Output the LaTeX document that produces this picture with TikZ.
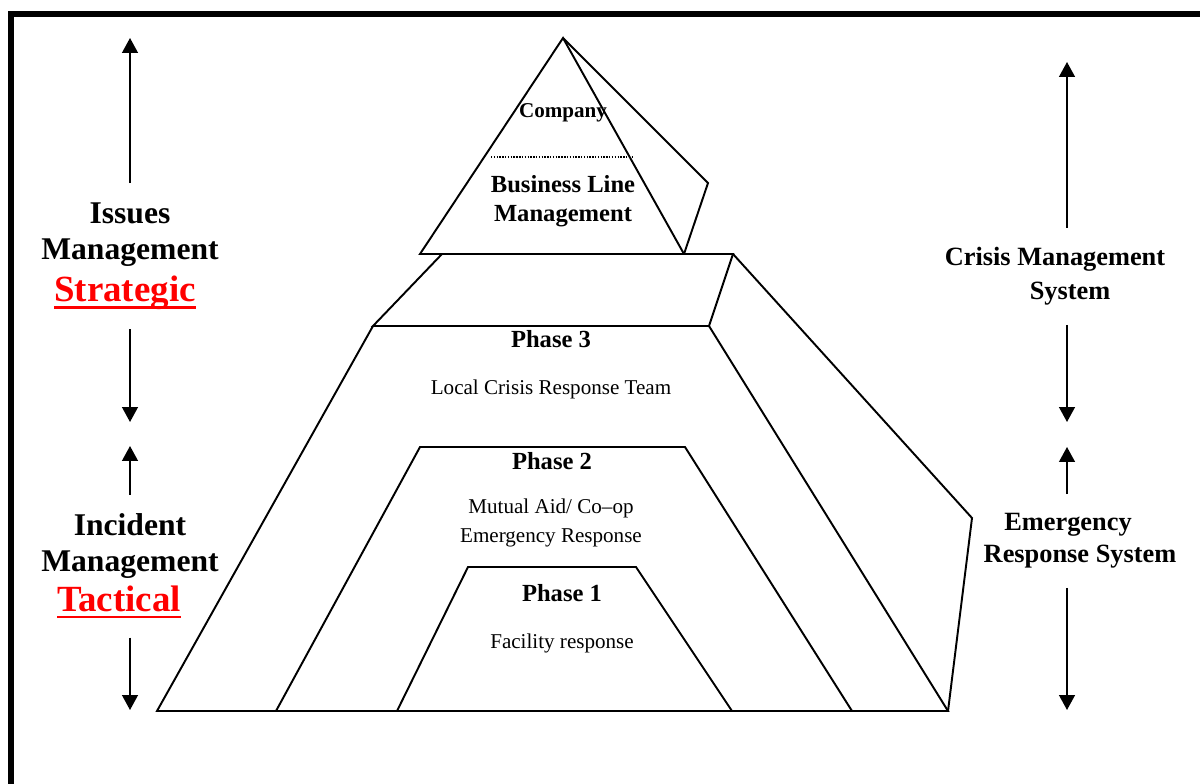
\documentclass[tikz,border=0pt]{standalone}
\usepackage{fontspec}
\setmainfont{Liberation Serif}
\usetikzlibrary{arrows.meta, calc}
% thick underline in the current colour
\newcommand{\ulthick}[1]{\setbox0\hbox{#1}\rlap{\vrule height -2.6pt depth 3.9pt width \wd0}\box0}
\tikzset {
  frame/.style = {line width=3.4pt},
  edge/.style = {line width=1.1pt, line join=miter},
  dots/.style = {line width=0.6pt, dash pattern=on 0.8pt off 0.8pt},
  updown/.style = {-{Triangle[width=9pt, length=8.5pt]}, line width=1pt, shorten <=0.38cm},
  side/.style = {inner sep=0pt, font=\bfseries\fontsize{18}{20}\selectfont},
  sidered/.style = {inner sep=0pt, text=red, font=\bfseries\fontsize{21}{24}\selectfont},
  sys/.style = {inner sep=0pt, font=\bfseries\fontsize{15}{18}\selectfont},
  phase/.style = {inner sep=0pt, font=\bfseries\fontsize{14}{16.5}\selectfont, align=center},
  note/.style = {inner sep=0pt, font=\fontsize{12}{16}\selectfont, align=center}
}

\begin{document}
\begin{tikzpicture}[x=0.02cm, y=-0.02cm]
    \useasboundingbox (0,0) rectangle (1200,784);
    \draw[frame] (11,784) -- (11,14) -- (1200,14);

    % pyramid
    \draw[edge] (420,254) -- (563,38) -- (684,254) -- cycle;
    \draw[edge] (563,38) -- (708,183) -- (684,254);
    \draw[dots] (491,157) -- (633,157);
    \draw[edge] (684,254) -- (733,254) -- (709,326) -- (373,326) -- (442,254);
    \draw[edge] (733,254) -- (972,518) -- (948,711);
    \draw[edge] (373,326) -- (157,711) -- (948,711) -- (709,326);
    \draw[edge] (276,711) -- (420,447) -- (685,447) -- (852,711);
    \draw[edge] (397,711) -- (468,567) -- (636,567) -- (732,711);

    \node[note, font=\bfseries\fontsize{12}{14}\selectfont] (company) at (563,113) {Company};
    \node[phase] (blm) at (563,201) {Business Line\\Management};
    \node[phase] (phase3) at (551,339) {Phase 3};
    \node[note] (lcrt) at (551,389) {Local Crisis Response Team};
    \node[phase] (phase2) at (552,461) {Phase 2};
    \node[note] (mutual) at (551,523) {Mutual Aid/ Co--op\\Emergency Response};
    \node[phase] (phase1) at (562,593) {Phase 1};
    \node[note] (facility) at (562,643) {Facility response};

    % left side
    \node[side] (issues) at (130,213) {Issues};
    \node[side] (mgmtA) at (130,253) {Management};
    \node[sidered] (strat) at (125,293) {\ulthick{Strategic}};
    \node[side] (incident) at (130,525) {Incident};
    \node[side] (mgmtB) at (130,565) {Management};
    \node[sidered] (tact) at (119,602) {\ulthick{Tactical}};

    \coordinate (issuesTip) at (130,38);
    \coordinate (stratTip) at (130,422);
    \coordinate (incidentTip) at (130,446);
    \coordinate (tactTip) at (130,710);
    \draw[updown] (issues.north) -- (issuesTip);
    \draw[updown] (strat.south -| stratTip) -- (stratTip);
    \draw[updown] (incident.north) -- (incidentTip);
    \draw[updown] (tact.south -| tactTip) -- (tactTip);

    % right side
    \node[sys] (crisis) at (1055,259) {Crisis Management};
    \node[sys] (system) at (1070,294) {System};
    \node[sys] (emerg) at (1068,525) {Emergency};
    \node[sys] (resp) at (1080,557) {Response System};

    \coordinate (crisisTip) at (1067,62);
    \coordinate (systemTip) at (1067,422);
    \coordinate (emergTip) at (1067,447);
    \coordinate (respTip) at (1067,710);
    \draw[updown] (crisis.north -| crisisTip) -- (crisisTip);
    \draw[updown] (system.south -| systemTip) -- (systemTip);
    \draw[updown] (emerg.north -| emergTip) -- (emergTip);
    \draw[updown] (resp.south -| respTip) -- (respTip);
\end{tikzpicture}
\end{document}
